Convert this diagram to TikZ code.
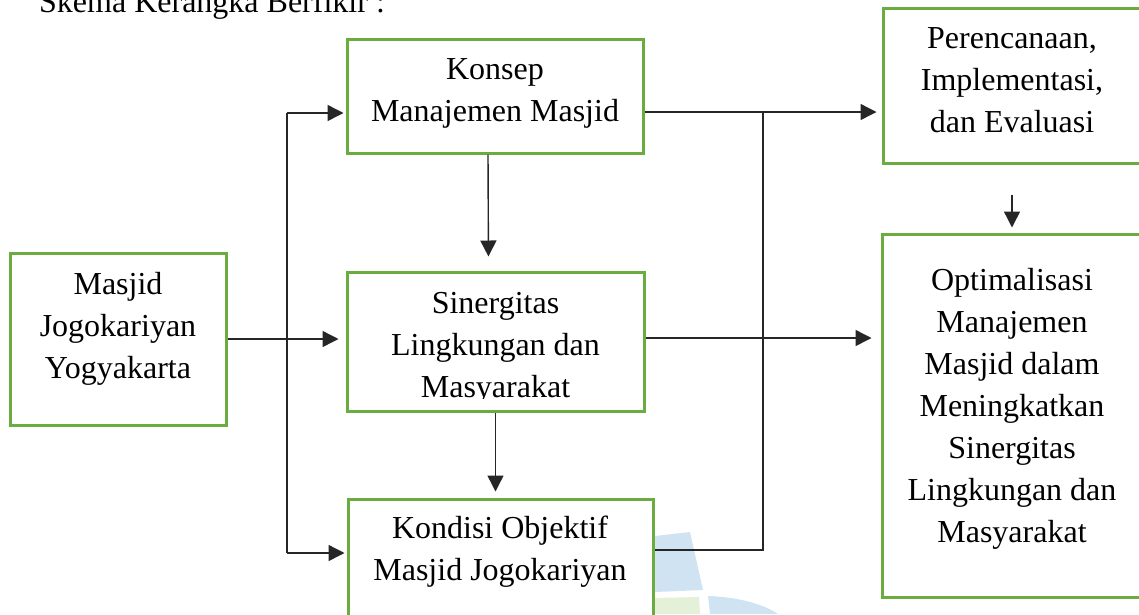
\documentclass[tikz,border=0pt]{standalone}
\usepackage{fontspec}
\setmainfont{Liberation Serif}
\usetikzlibrary{arrows.meta,calc}
\definecolor{kotak}{RGB}{106,172,64}
\definecolor{wmbiru}{RGB}{207,227,242}
\definecolor{wmhijau}{RGB}{228,241,216}
\begin{document}
\begin{tikzpicture}[x=1pt,y=-1pt,
  box/.style={draw=kotak,line width=3pt,inner sep=0pt},
  teks/.style={font=\fontsize{32}{42}\selectfont,align=center,anchor=base,inner sep=0pt},
  garis/.style={line width=1.4pt,draw=black!85},
  arr/.style={garis,-{Triangle[length=16pt,width=16pt]}}]
            \useasboundingbox (0,0) rectangle (1139,614);
            \clip (0,0) rectangle (1139,614);
            % 水印
            \fill[wmbiru] (655,536) -- (690,532) -- (703,590) -- (655,592) -- cycle;
            \fill[wmhijau] (655,598) -- (699,597) -- (700,614) -- (655,614) -- cycle;
            \fill[wmbiru] (708,596) .. controls (740,597) and (765,605) .. (778,614) -- (710,614) -- cycle;
            \node[teks,anchor=base west] (judul) at (39,12.7) {Skema Kerangka Berfikir :};
            % 定义方框
            \node[box,minimum width=216pt,minimum height=172pt] (masjid) at (118,339) {};
            \node[box,minimum width=296pt,minimum height=114pt] (konsep) at (495,96) {};
            \node[box,minimum width=297pt,minimum height=139pt] (sinerg) at (495.5,341.5) {};
            \node[box,minimum width=305pt,minimum height=141pt] (kondisi) at (500.5,569.5) {};
            \node[box,minimum width=258pt,minimum height=155pt] (peren) at (1012,85.5) {};
            \node[box,minimum width=259pt,minimum height=363pt] (optim) at (1011.5,415.5) {};
            % 文字 (基线=最后一行)
            \node[teks] (tmasjid) at (118,378) {Masjid\\Jogokariyan\\Yogyakarta};
            \node[teks] (tkonsep) at (495,121) {Konsep\\Manajemen Masjid};
            \begin{scope}
            \clip (347,272) rectangle (644,398);
            \node[teks] (tsinerg) at (495.5,397) {Sinergitas\\Lingkungan dan\\Masyarakat};
            \end{scope}
            \node[teks] (tkondisi) at (500,580) {Kondisi Objektif\\Masjid Jogokariyan};
            \node[teks] (tperen) at (1012,132) {Perencanaan,\\Implementasi,\\dan Evaluasi};
            \node[teks] (toptim) at (1012,542) {Optimalisasi\\Manajemen\\Masjid dalam\\Meningkatkan\\Sinergitas\\Lingkungan dan\\Masyarakat};
            % 连线
            \coordinate (ca) at (287,113); %左边分支
            \coordinate (cb) at (287,553);
            \coordinate (cc) at (763,112); %右边分支
            \coordinate (cd) at (763,550);
            \draw[garis] (ca) -- (cb);
            \draw[arr,shorten >=2pt] (ca) -- (konsep.west |- ca);
            \draw[arr,shorten >=2pt] (cb) -- (kondisi.west |- cb);
            \draw[arr,shorten >=7pt] (masjid.east) -- (sinerg.west |- masjid.east);
            \draw[arr,shorten >=14pt] ([xshift=-7pt]konsep.south) -- ([xshift=-7pt]sinerg.north);
            \draw[arr,shorten >=6pt] (sinerg.south) -- (sinerg.south |- kondisi.north);
            \draw[garis] (konsep.east |- cc) -- (cc) -- (cd) -- (kondisi.east |- cd);
            \draw[arr,shorten >=5pt] (cc) -- (peren.west |- cc);
            \draw[arr,shorten >=9pt] ([yshift=3.5pt]sinerg.east) -- ([yshift=3.5pt]sinerg.east -| optim.west);
            \draw[arr,shorten <=30pt,shorten >=5pt] (peren.south) -- (peren.south |- optim.north);
            \end{tikzpicture}
\end{document}
